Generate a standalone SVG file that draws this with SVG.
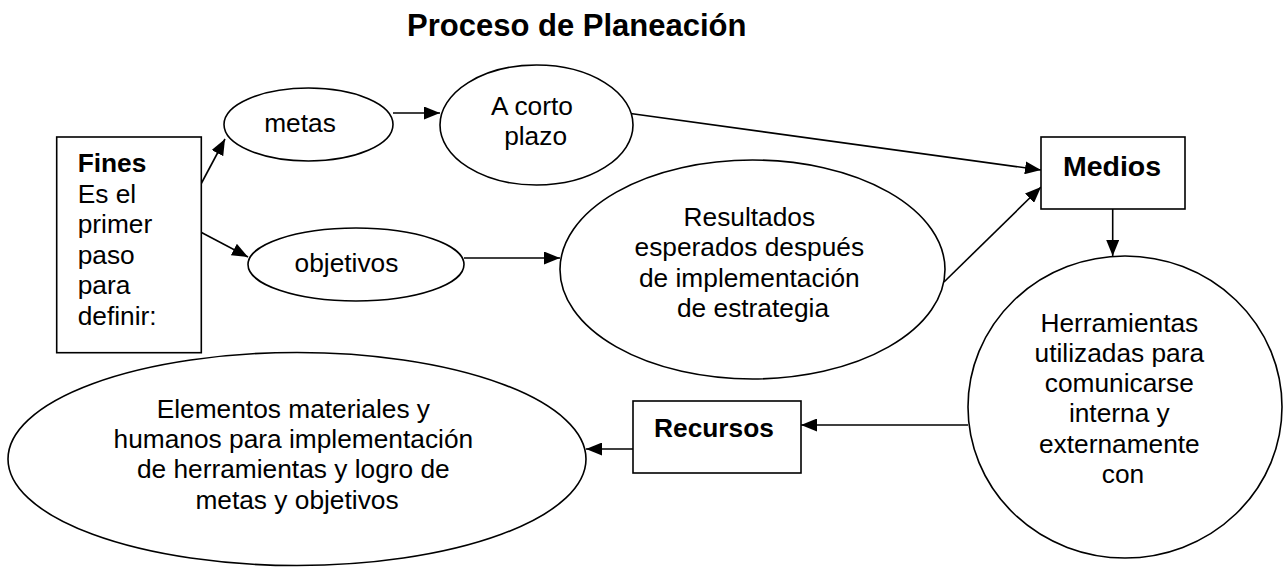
<svg xmlns="http://www.w3.org/2000/svg" width="1287" height="567" viewBox="0 0 1287 567">
  <style>
    .shape { fill: #ffffff; stroke: #000000; stroke-width: 1.6; }
    .conn { stroke: #000000; stroke-width: 1.6; fill: none; marker-end: url(#arrow); }
    .t { font-family: "Liberation Sans", Arial, sans-serif; font-size: 26.3px; fill: #000000; }
    .b { font-family: "Liberation Sans", Arial, sans-serif; font-weight: bold; fill: #000000; }
  </style>
  <defs>
    <marker id="arrow" viewBox="0 0 16 13" refX="16" refY="6.5" markerWidth="16" markerHeight="13" markerUnits="userSpaceOnUse" orient="auto">
      <path d="M0,0 L16,6.5 L0,13 Z" fill="#000000"/>
    </marker>
  </defs>
  <rect width="1287" height="567" fill="#ffffff"/>

  <g id="title">
    <text class="b" font-size="31" x="407" y="36">Proceso de Planeación</text>
  </g>

  <g id="connectors">
    <line class="conn" x1="201" y1="184" x2="225" y2="139"/>
    <line class="conn" x1="201.5" y1="232.5" x2="248" y2="257"/>
    <line class="conn" x1="393" y1="113" x2="440" y2="113"/>
    <line class="conn" x1="464" y1="258" x2="560" y2="258"/>
    <line class="conn" x1="630.5" y1="113.5" x2="1041" y2="170"/>
    <line class="conn" x1="944" y1="282" x2="1041" y2="187"/>
    <line class="conn" x1="1112.7" y1="209" x2="1112.7" y2="256"/>
    <line class="conn" x1="968" y1="425" x2="801" y2="425"/>
    <line class="conn" x1="633" y1="449" x2="586" y2="449"/>
  </g>

  <g id="fines">
    <rect class="shape" x="56.7" y="137" width="144.6" height="215.7"/>
    <text class="t">
      <tspan x="77.7" y="172" font-weight="bold">Fines</tspan>
      <tspan x="77.7" y="202.6">Es el</tspan>
      <tspan x="77.7" y="233.2">primer</tspan>
      <tspan x="77.7" y="263.8">paso</tspan>
      <tspan x="77.7" y="294.4">para</tspan>
      <tspan x="77.7" y="325">definir:</tspan>
    </text>
  </g>

  <g id="metas">
    <ellipse class="shape" cx="308.5" cy="124.5" rx="84.5" ry="36.5"/>
    <text class="t" text-anchor="middle" x="300" y="131.7">metas</text>
  </g>

  <g id="corto-plazo">
    <ellipse class="shape" cx="536.5" cy="125" rx="96.5" ry="60"/>
    <text class="t" text-anchor="middle">
      <tspan x="535.6" y="115">A corto</tspan>
      <tspan x="535.6" y="145">plazo</tspan>
    </text>
  </g>

  <g id="objetivos">
    <ellipse class="shape" cx="356" cy="264.5" rx="108" ry="36.5"/>
    <text class="t" text-anchor="middle" x="346.5" y="271.7">objetivos</text>
  </g>

  <g id="resultados">
    <ellipse class="shape" cx="752.5" cy="269.5" rx="192.5" ry="109.5"/>
    <text class="t" text-anchor="middle">
      <tspan x="753" y="225.5">Resultados</tspan>
      <tspan x="753" y="256">esperados después</tspan>
      <tspan x="753" y="287">de implementación</tspan>
      <tspan x="753" y="317">de estrategia</tspan>
    </text>
  </g>

  <g id="medios">
    <rect class="shape" x="1041" y="137" width="144" height="72"/>
    <text class="b" font-size="28.5" text-anchor="middle" x="1112" y="176">Medios</text>
  </g>

  <g id="herramientas">
    <ellipse class="shape" cx="1125" cy="407" rx="157" ry="151"/>
    <text class="t" text-anchor="middle">
      <tspan x="1123" y="332">Herramientas</tspan>
      <tspan x="1123" y="362">utilizadas para</tspan>
      <tspan x="1123" y="392">comunicarse</tspan>
      <tspan x="1123" y="422">interna y</tspan>
      <tspan x="1123" y="452.5">externamente</tspan>
      <tspan x="1123" y="482.7">con</tspan>
    </text>
  </g>

  <g id="recursos">
    <rect class="shape" x="633" y="401" width="168" height="72"/>
    <text class="b" font-size="26.3" text-anchor="middle" x="714" y="437">Recursos</text>
  </g>

  <g id="elementos">
    <ellipse class="shape" cx="297" cy="459" rx="289" ry="106.5"/>
    <text class="t" text-anchor="middle">
      <tspan x="297" y="417.5">Elementos materiales y</tspan>
      <tspan x="297" y="448">humanos para implementación</tspan>
      <tspan x="297" y="478.3">de herramientas y logro de</tspan>
      <tspan x="297" y="508.5">metas y objetivos</tspan>
    </text>
  </g>
</svg>
